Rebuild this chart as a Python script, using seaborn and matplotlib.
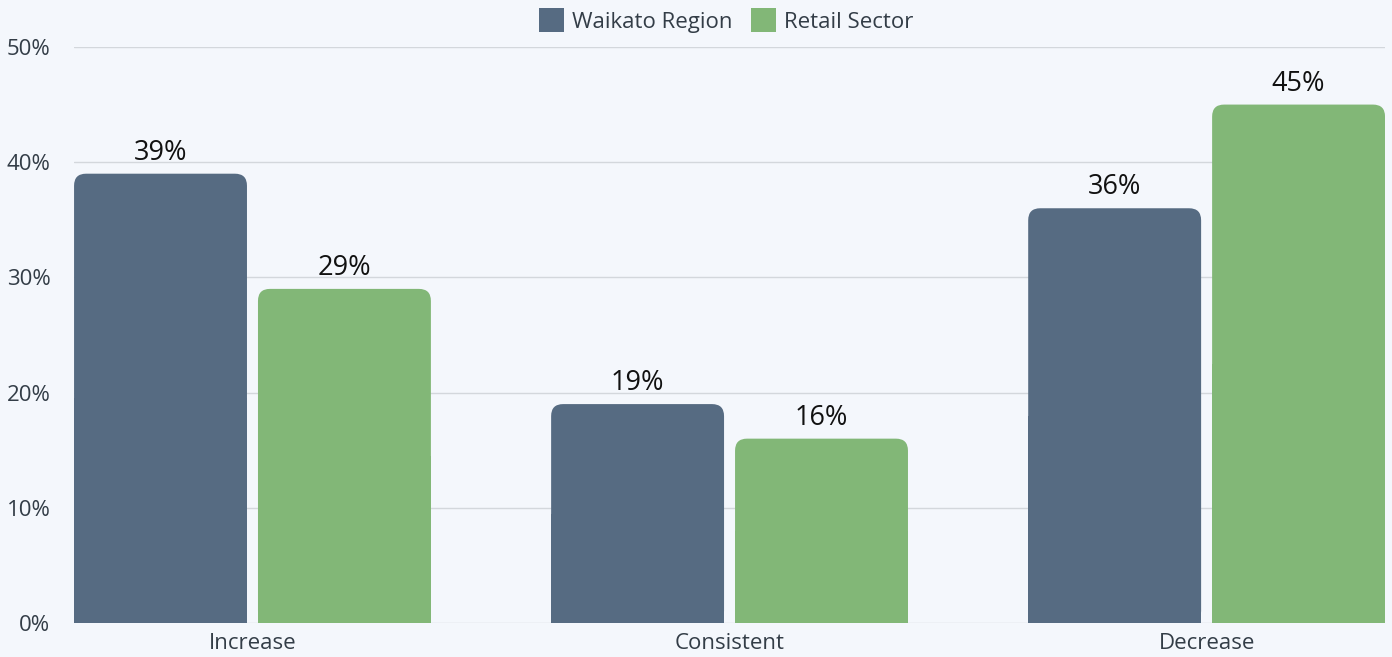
import matplotlib
matplotlib.use("Agg")
import matplotlib.pyplot as plt
import seaborn as sns
import pandas as pd
from matplotlib.patches import FancyBboxPatch, Rectangle, Patch

categories = ["Increase", "Consistent", "Decrease"]
series_names = ["Waikato Region", "Retail Sector"]
waikato = [39, 19, 36]
retail = [29, 16, 45]
y_ticks = [0, 10, 20, 30, 40, 50]
y_tick_labels = ["0%", "10%", "20%", "30%", "40%", "50%"]

colors = ["#566b82", "#82b777"]
bg = "#f4f7fc"

df = pd.DataFrame({
    "category": categories * 2,
    "series": [series_names[0]] * 3 + [series_names[1]] * 3,
    "value": waikato + retail,
})

sns.set_theme(style="white")
plt.rcParams["font.family"] = ["Open Sans", "DejaVu Sans"]

fig = plt.figure(figsize=(13.92, 6.57), dpi=100, facecolor=bg)
ax = fig.add_axes([0.0532, 0.0518, 0.9418, 0.8767])
ax.set_facecolor(bg)

sns.barplot(data=df, x="category", y="value", hue="series", order=categories,
            hue_order=series_names, palette=colors, width=0.748, ax=ax,
            legend=False, saturation=1)

ax.set_ylim(0, 50)
ax.set_xlim(-0.374, 2.374)

# unit-per-pixel aspect for rounding corners
x_per_px = (2.374 + 0.374) / (0.9418 * 1392)
y_per_px = 50 / (0.8767 * 657)
aspect = y_per_px / x_per_px
radius = 12 * x_per_px
half_gap = 5.5 * x_per_px

bars = list(ax.patches)
for p in bars:
    x0, y0 = p.get_x(), p.get_y()
    w, h = p.get_width(), p.get_height()
    fc = p.get_facecolor()
    cx = x0 + w / 2
    p.remove()
    group_center = round(cx)
    if cx < group_center:
        w -= half_gap
    else:
        x0 += half_gap
        w -= half_gap
    rb = FancyBboxPatch((x0, y0), w, h, boxstyle=f"round,pad=0,rounding_size={radius}",
                        mutation_aspect=aspect,
                        facecolor=fc, edgecolor="none", zorder=3)
    ax.add_patch(rb)
    ax.add_patch(Rectangle((x0, y0), w, h / 2, facecolor=fc, edgecolor="none", zorder=3))
    ax.text(x0 + w / 2, y0 + h + 0.6, f"{int(round(h))}%", ha="center", va="bottom",
            fontsize=19.5, color="#111111", zorder=4)

ax.set_yticks(y_ticks)
ax.set_yticklabels(y_tick_labels)
ax.yaxis.grid(True, color="#d3d7dc", linewidth=1)
ax.set_axisbelow(True)
for s in ax.spines.values():
    s.set_visible(False)
ax.tick_params(axis="both", length=0, labelsize=16, labelcolor="#333d47")
ax.tick_params(axis="y", pad=17)
ax.tick_params(axis="x", pad=7)
ax.set_xlabel("")
ax.set_ylabel("")

handles = [Patch(facecolor=c, edgecolor="none") for c in colors]
fig.legend(handles, series_names, loc="upper center", bbox_to_anchor=(0.5216, 1.018),
           ncol=2, frameon=False, fontsize=16, handlelength=1.15, handleheight=1.3,
           handletextpad=0.35, columnspacing=0.8, labelcolor="#333d47")

fig.savefig("out.png", dpi=100, facecolor=bg)
